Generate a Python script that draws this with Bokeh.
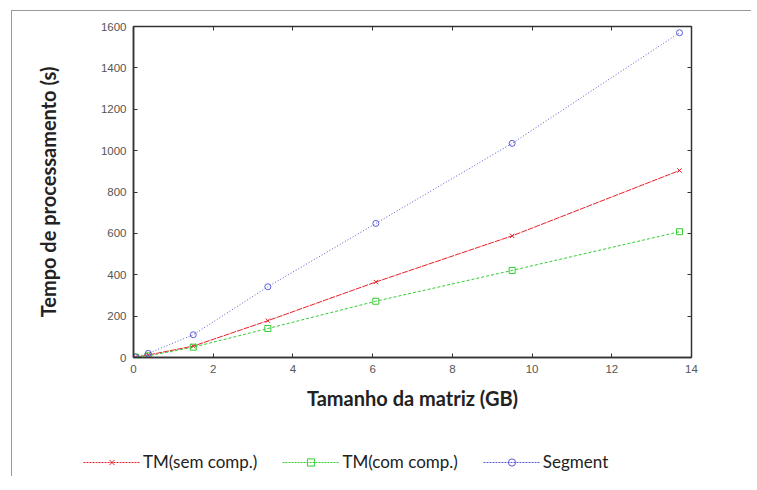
from bokeh.plotting import figure
from bokeh.models import (Legend, LegendItem, LinearAxis, FixedTicker,
                          CustomJSTickFormatter, Range1d)
from bokeh.embed import file_html
from bokeh.resources import INLINE

# Data
size_gb = [0.05, 0.37, 1.5, 3.37, 6.08, 9.5, 13.7]
tm_sem = [2, 12, 55, 178, 365, 588, 904]
tm_com = [2, 8, 50, 140, 272, 421, 608]
segment = [3, 20, 110, 342, 648, 1035, 1570]
series_names = ["TM(sem comp.)", "TM(com comp.)", "Segment"]

x_ticks = [0, 2, 4, 6, 8, 10, 12, 14]
y_ticks = [0, 200, 400, 600, 800, 1000, 1200, 1400, 1600]

RED = "#e8202a"
GREEN = "#33cc33"
BLUE = "#5a5ad8"

p = figure(width=740, height=410, output_backend="svg", toolbar_location=None,
           x_range=Range1d(0, 14), y_range=Range1d(0, 1600),
           min_border_left=121, min_border_top=15, min_border_right=61,
           min_border_bottom=64)
p.margin = (10, 0, 0, 11)
p.styles = {"border-top": "1px solid #9a9a9a", "border-left": "1px solid #9a9a9a"}

p.xgrid.visible = False
p.ygrid.visible = False
p.outline_line_color = "#333333"
p.outline_line_width = 1.5

TICK_FONT = "Liberation Sans"
for ax in (p.xaxis[0], p.yaxis[0]):
    ax.major_tick_in = 4
    ax.major_tick_out = 0
    ax.minor_tick_line_color = None
    ax.axis_line_color = "#333333"
    ax.axis_line_width = 1.5
    ax.major_tick_line_color = "#333333"
    ax.major_label_text_font = TICK_FONT
    ax.major_label_text_font_size = "11.5px"
    ax.major_label_text_color = "#555555"
    ax.axis_label_text_font = "Lato"
    ax.axis_label_text_font_style = "bold"
    ax.axis_label_text_font_size = "20px"
    ax.axis_label_text_color = "#222222"

p.xaxis[0].ticker = FixedTicker(ticks=x_ticks)
p.yaxis[0].ticker = FixedTicker(ticks=y_ticks)
p.xaxis[0].axis_label = "Tamanho da matriz (GB)"
p.yaxis[0].axis_label = "Tempo de processamento (s)"
p.xaxis[0].major_label_standoff = 7
p.yaxis[0].major_label_standoff = 7
p.xaxis[0].axis_label_standoff = 10
p.yaxis[0].axis_label_standoff = 38

# mirror ticks
blank = CustomJSTickFormatter(code="return ''")
top_ax = LinearAxis(ticker=FixedTicker(ticks=x_ticks), formatter=blank,
                    major_tick_in=4, major_tick_out=0, minor_tick_line_color=None,
                    axis_line_color="#333333", major_tick_line_color="#333333",
                    major_label_standoff=0)
right_ax = LinearAxis(ticker=FixedTicker(ticks=y_ticks), formatter=blank,
                      major_tick_in=4, major_tick_out=0, minor_tick_line_color=None,
                      axis_line_color="#333333", major_tick_line_color="#333333",
                      major_label_standoff=0)
p.add_layout(top_ax, "above")
p.add_layout(right_ax, "right")

p.line(size_gb, tm_sem, line_color=RED, line_width=1, line_dash="6 1")
p.scatter(size_gb, tm_sem, marker="x", size=6, line_color=RED, line_width=1)
p.line(size_gb, tm_com, line_color=GREEN, line_width=1, line_dash="3 2")
p.scatter(size_gb, tm_com, marker="square", size=6, line_color=GREEN,
          fill_color=None, line_width=1)
p.line(size_gb, segment, line_color=BLUE, line_width=1, line_dash="1 2")
p.scatter(size_gb, segment, marker="circle", size=6, line_color=BLUE,
          fill_color=None, line_width=1)

# Legend strip below the chart (separate root so its frame spans full width)
lg = figure(width=740, height=56, output_backend="svg", toolbar_location=None,
            x_range=Range1d(0, 1), y_range=Range1d(0, 1),
            min_border=0, outline_line_color=None)
lg.margin = (0, 0, 0, 11)
lg.styles = {"border-left": "1px solid #9a9a9a"}
lg.axis.visible = False
lg.grid.visible = False
nan = float("nan")
items = []
for name, color, marker in zip(series_names, [RED, GREEN, BLUE],
                               ["x", "square", "circle"]):
    ln = lg.line([nan], [nan], line_color=color, line_dash="2 1")
    mk = lg.scatter([nan], [nan], marker=marker, size=6, line_color=color,
                    fill_color=None, line_width=1)
    items.append(LegendItem(label=name, renderers=[ln, mk]))

legend = Legend(items=items, orientation="horizontal", location=(71, 4),
                border_line_color=None, background_fill_alpha=0,
                padding=0, margin=0, spacing=25, glyph_width=57, glyph_height=18,
                label_height=20, label_standoff=3,
                label_text_font="Lato", label_text_font_size="17px",
                label_text_color="#222222")
lg.add_layout(legend, "center")

open("out.html", "w").write(file_html([p, lg], INLINE))
